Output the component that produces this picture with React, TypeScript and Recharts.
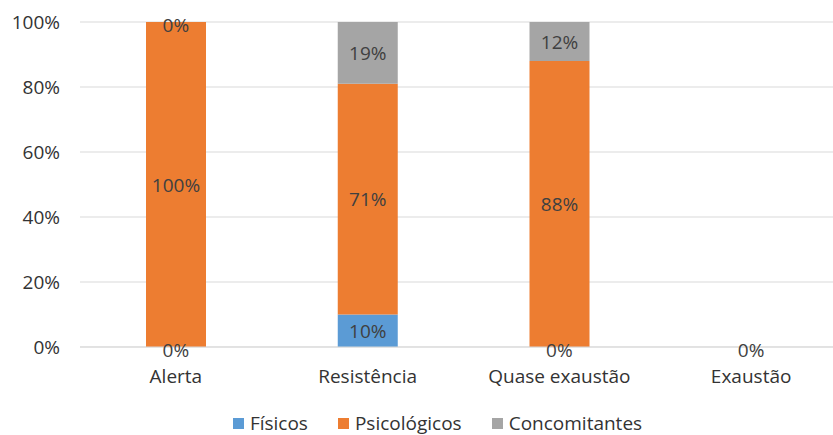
import React from 'react';
import { ComposedChart, Bar, Line, XAxis, YAxis, CartesianGrid, Legend, LabelList } from 'recharts';

const categories = ['Alerta', 'Resistência', 'Quase exaustão', 'Exaustão'];
const fisicos = [0, 10, 0, 0];
const psicologicos = [100, 71, 88, 0];
const concomitantes = [0, 19, 12, 0];
const yTicks = [0, 20, 40, 60, 80, 100];

const series = [
  { key: 'fisicos', name: 'Físicos', color: '#5B9BD5', values: fisicos },
  { key: 'psicologicos', name: 'Psicológicos', color: '#ED7D31', values: psicologicos },
  { key: 'concomitantes', name: 'Concomitantes', color: '#A5A5A5', values: concomitantes },
];

// bar values, plus the stack base of every empty segment (recharts skips labels on zero-height bars).
// empty segments sitting on the same spot share one label.
const data = categories.map((name, i) => {
  const row: any = { name };
  const used = new Set<number>();
  let base = 0;
  series.forEach((s) => {
    const v = s.values[i];
    row[s.key] = v;
    row[s.key + 'Zero'] = v === 0 && !used.has(base) ? base : null;
    if (v === 0) used.add(base);
    base += v;
  });
  return row;
});

const FONT = '"Open Sans", sans-serif';

const renderBarLabel = (props: any) => {
  const vb = props.viewBox || {};
  const x = props.x ?? vb.x;
  const y = props.y ?? vb.y;
  const width = props.width ?? vb.width;
  const height = props.height ?? vb.height;
  if (!props.value) return null;
  return (
    <text
      x={x + width / 2}
      y={y + height / 2}
      textAnchor="middle"
      dominantBaseline="central"
      fill="#404040"
      fontSize={19}
      fontFamily={FONT}
    >
      {props.value}%
    </text>
  );
};

const renderZeroLabel = (props: any) => {
  if (props.value === null || props.value === undefined) return null;
  const vb = props.viewBox || {};
  const x = props.x ?? vb.x;
  const y = props.y ?? vb.y;
  if (x == null || y == null || isNaN(y)) return null;
  // excel nudges the empty-segment labels a little down
  return (
    <text
      x={x}
      y={y + 3}
      textAnchor="middle"
      dominantBaseline="central"
      fill="#404040"
      fontSize={19}
      fontFamily={FONT}
    >
      0%
    </text>
  );
};

const renderLegend = () => (
  <div
    style={{
      display: 'flex',
      justifyContent: 'center',
      alignItems: 'center',
      gap: 30,
      fontSize: 19,
      fontFamily: FONT,
      color: '#333333',
      height: 24,
    }}
  >
    {series.map((s) => (
      <span key={s.key} style={{ display: 'flex', alignItems: 'center' }}>
        <span style={{ width: 11, height: 11, background: s.color, marginRight: 6, display: 'inline-block' }} />
        {s.name}
      </span>
    ))}
  </div>
);

export default function App() {
  return (
    <div
      style={{
        position: 'absolute',
        left: 0,
        top: 0,
        width: 833,
        height: 435,
        overflow: 'hidden',
        background: '#fff',
      }}
    >
      <ComposedChart
        width={850}
        height={435}
        data={data}
        margin={{ top: 22, right: 3, left: 8, bottom: 0 }}
        barSize={60}
      >
        <CartesianGrid vertical={false} stroke="#D9D9D9" />
        <XAxis
          dataKey="name"
          axisLine={{ stroke: '#D9D9D9' }}
          tickLine={false}
          height={64}
          tickMargin={17}
          tick={{ fontSize: 19, fill: '#333333', fontFamily: FONT }}
        />
        <YAxis
          domain={[0, 100]}
          ticks={yTicks}
          tickFormatter={(v: number) => `${v}%`}
          axisLine={false}
          tickLine={false}
          width={72}
          tickMargin={14}
          tick={{ fontSize: 19, fill: '#333333', fontFamily: FONT }}
        />
        <Legend
          verticalAlign="bottom"
          content={renderLegend}
          wrapperStyle={{ left: 0, width: 875, bottom: 0, height: 24 }}
        />
        {series.map((s) => (
          <Bar key={s.key} dataKey={s.key} name={s.name} stackId="a" fill={s.color} isAnimationActive={false}>
            <LabelList dataKey={s.key} content={renderBarLabel} />
          </Bar>
        ))}
        {series.map((s) => (
          <Line
            key={s.key + 'Zero'}
            dataKey={s.key + 'Zero'}
            stroke="none"
            dot={false}
            activeDot={false}
            legendType="none"
            connectNulls={false}
            isAnimationActive={false}
          >
            <LabelList dataKey={s.key + 'Zero'} content={renderZeroLabel} />
          </Line>
        ))}
      </ComposedChart>
    </div>
  );
}
